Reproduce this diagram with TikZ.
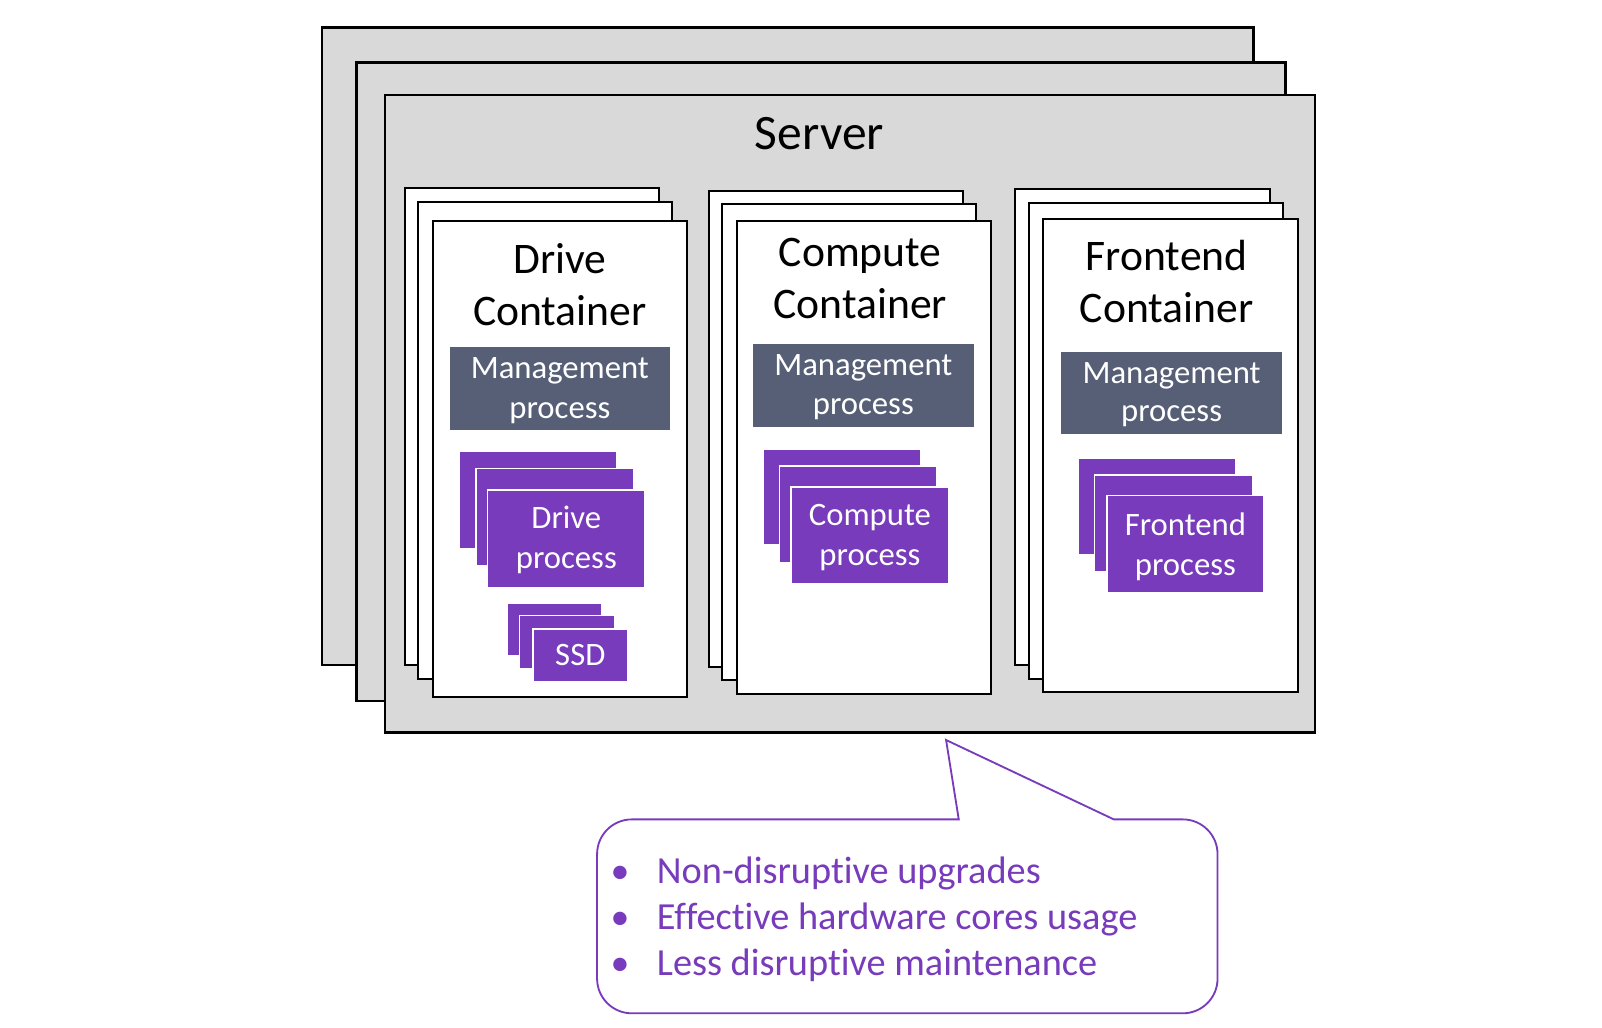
\documentclass[tikz,border=0pt]{standalone}
\usepackage{fontspec}
\setmainfont{Carlito}[Ligatures={NoCommon}]
\definecolor{srvgray}{RGB}{217,217,217}
\definecolor{slate}{RGB}{86,95,118}
\definecolor{vio}{RGB}{119,59,187}
\tikzset{
  srv/.style={draw=black, line width=2.4pt, fill=srvgray},
  card/.style={draw=black, line width=2pt, fill=white},
  mgmt/.style={fill=slate},
  proc/.style={fill=vio, draw=white, line width=1.6pt},
  srvtxt/.style={font=\fontsize{48.5}{58}\selectfont, anchor=base, inner sep=0pt},
  ttl/.style={font=\fontsize{42.7}{51}\selectfont, anchor=base, inner sep=0pt},
  wtxt/.style={text=white, font=\fontsize{32}{39}\selectfont, anchor=base, inner sep=0pt},
  bultxt/.style={text=vio, font=\fontsize{37.5}{45}\selectfont, anchor=base west, inner sep=0pt},
  buldot/.style={text=vio, font=\fontsize{37}{45}\selectfont, anchor=base, inner sep=0pt},
  callout/.style={draw=vio, line width=1.8pt, fill=white, line join=miter}
}
\begin{document}
\begin{tikzpicture}[x=1pt,y=-1pt]
\useasboundingbox (0,0) rectangle (1568,1006);
\fill[white] (0,0) rectangle (1568,1006);
% server stack
\draw[srv] (315,27) rectangle (1227,651);
\draw[srv] (349,61) rectangle (1258,686);
\draw[srv] (377,93) rectangle (1287,717);
\node[srvtxt] (server) at (802,146.2) {Server};
% drive container stack
\draw[card] (396.4,183.6) rectangle (645,651.2);
\draw[card] (408.8,197.8) rectangle (658,664.4);
\draw[card] (423.5,216) rectangle (672.1,682.6);
\node[ttl] (dtitle1) at (548,267.3) {Drive};
\node[ttl] (dtitle2) at (548,318.6) {Container};
\fill[mgmt] (440.4,340.1) rectangle (655.8,420.5);
\node[wtxt] (dmgmt1) at (548,370.6) {Management};
\node[wtxt] (dmgmt2) at (548,409.6) {process};
\draw[proc] (449.3,442) rectangle (603.9,537);
\draw[proc] (465.6,458.6) rectangle (620.5,553.5);
\draw[proc] (477.3,479.8) rectangle (631.3,575.7);
\node[wtxt] (dproc1) at (554.3,517.5) {Drive};
\node[wtxt] (dproc2) at (554.3,556.2) {process};
\draw[proc] (496.2,589.9) rectangle (589.2,641.9);
\draw[proc] (508.3,602.5) rectangle (601.9,654.4);
\draw[proc] (521.4,615.4) rectangle (614.7,667.7);
\node[wtxt] (ssd) at (568,651.2) {SSD};
% compute container stack
\draw[card] (694,186.9) rectangle (942.8,652.8);
\draw[card] (706.7,199.5) rectangle (955.3,666);
\draw[card] (721,216) rectangle (970,679.3);
\node[ttl] (ctitle1) at (842,260.7) {Compute};
\node[ttl] (ctitle2) at (842,311.9) {Container};
\fill[mgmt] (737,336.8) rectangle (953.3,417.9);
\node[wtxt] (cmgmt1) at (845,367.5) {Management};
\node[wtxt] (cmgmt2) at (845,405.6) {process};
\draw[proc] (746.8,439.4) rectangle (901.4,533.7);
\draw[proc] (763.1,455.9) rectangle (916.8,550.9);
\draw[proc] (774.2,476.5) rectangle (928.8,571.4);
\node[wtxt] (cproc1) at (851.5,514.8) {Compute};
\node[wtxt] (cproc2) at (851.5,553.9) {process};
% frontend container stack
\draw[card] (993.4,184.6) rectangle (1243,651.2);
\draw[card] (1007.1,198.5) rectangle (1256.1,664.4);
\draw[card] (1020.5,214.4) rectangle (1270.7,677.6);
\node[ttl] (ftitle1) at (1142,265) {Frontend};
\node[ttl] (ftitle2) at (1142,315.3) {Container};
\fill[mgmt] (1038.5,344.4) rectangle (1254.8,425.2);
\node[wtxt] (fmgmt1) at (1146.7,375.5) {Management};
\node[wtxt] (fmgmt2) at (1146.7,412.9) {process};
\draw[proc] (1055.1,448.3) rectangle (1209.8,542.9);
\draw[proc] (1071.4,464.9) rectangle (1226.1,559.4);
\draw[proc] (1083.2,485.1) rectangle (1237.1,580.7);
\node[wtxt] (fproc1) at (1160.2,524) {Frontend};
\node[wtxt] (fproc2) at (1160.2,562.8) {process};
% callout
\draw[callout] (618.4,802) -- (938.4,802) -- (926,724.3) -- (1090.2,802) -- (1157.7,802)
  arc[start angle=270, end angle=360, radius=34] -- (1191.7,957.8)
  arc[start angle=0, end angle=90, radius=34] -- (618.4,991.8)
  arc[start angle=90, end angle=180, radius=34] -- (584.4,836)
  arc[start angle=180, end angle=270, radius=34] -- cycle;
\node[buldot] (b1) at (606.8,864.6) {•};
\node[buldot] (b2) at (606.8,909.6) {•};
\node[buldot] (b3) at (606.8,954.3) {•};
\node[bultxt] (t1) at (642.8,864.6) {Non-disruptive upgrades};
\node[bultxt] (t2) at (642.8,909.6) {Effective hardware cores usage};
\node[bultxt] (t3) at (642.8,954.3) {Less disruptive maintenance};
\end{tikzpicture}
\end{document}
